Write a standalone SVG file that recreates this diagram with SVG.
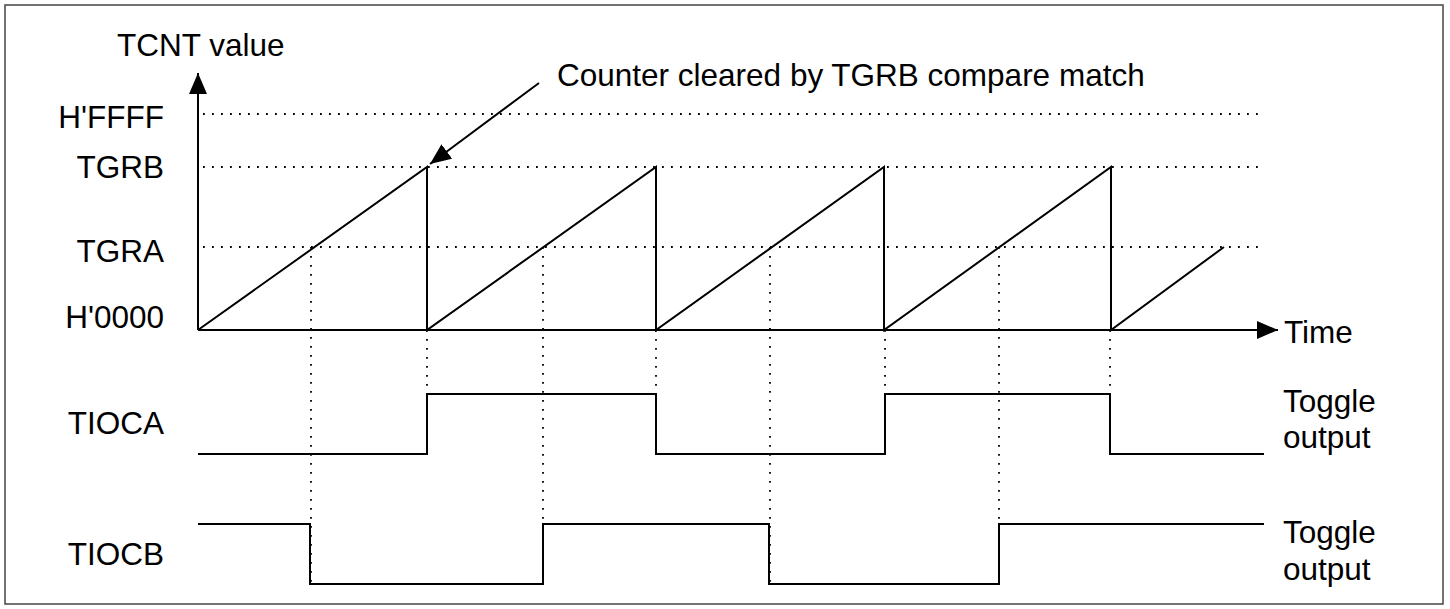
<svg xmlns="http://www.w3.org/2000/svg" width="1450" height="609" viewBox="0 0 1450 609">
<style>
text{font-family:"Liberation Sans",Arial,sans-serif;font-size:31.5px;fill:#000}
.r{text-anchor:end}
.s{fill:none;stroke:#000;stroke-width:2}
.d{fill:none;stroke:#000;stroke-width:1.8;stroke-dasharray:1.8 7.2}
</style>
<defs>
<marker id="ah" viewBox="0 0 10 10" refX="10" refY="5" markerWidth="21" markerHeight="18" preserveAspectRatio="none" markerUnits="userSpaceOnUse" orient="auto"><path d="M0,0L10,5L0,10z" fill="#000"/></marker>
</defs>
<rect x="5" y="5" width="1438" height="599" fill="#fff" stroke="#444" stroke-width="1.5"/>
<g id="labels">
<text x="117" y="56">TCNT value</text>
<text class="r" x="164" y="128">H'FFFF</text>
<text class="r" x="164" y="178">TGRB</text>
<text class="r" x="164" y="262">TGRA</text>
<text class="r" x="164" y="328">H'0000</text>
<text class="r" x="164" y="434">TIOCA</text>
<text class="r" x="164" y="565">TIOCB</text>
<text x="1284" y="343">Time</text>
<text x="1283" y="412">Toggle</text>
<text x="1283" y="448">output</text>
<text x="1283" y="543">Toggle</text>
<text x="1283" y="580">output</text>
<text x="557" y="86">Counter cleared by TGRB compare match</text>
</g>
<g id="grid">
<path class="d" d="M203,114H1265M203,167H1265M203,247H1265"/>
<path class="d" d="M311,247V584M543,247V584M770,247V584M999,247V584"/>
<path class="d" d="M427,330V394M656,330V394M885,330V394M1110,330V394"/>
</g>
<g id="axes">
<path class="s" d="M198,330V73" marker-end="url(#ah)"/>
<path class="s" d="M198,330H1278" marker-end="url(#ah)"/>
</g>
<g id="tcnt">
<path class="s" d="M198,330L427,167V330L656,167V330L884,167V330L1111,167V330L1224,247"/>
</g>
<g id="tioca">
<path class="s" d="M198,454H427V394H656V454H885V394H1110V454H1264"/>
</g>
<g id="tiocb">
<path class="s" d="M198,524H310V584H543V524H769V584H999V524H1264"/>
</g>
<g id="connectors">
<path class="s" d="M539,83L430,164" marker-end="url(#ah)"/>
</g>
</svg>
